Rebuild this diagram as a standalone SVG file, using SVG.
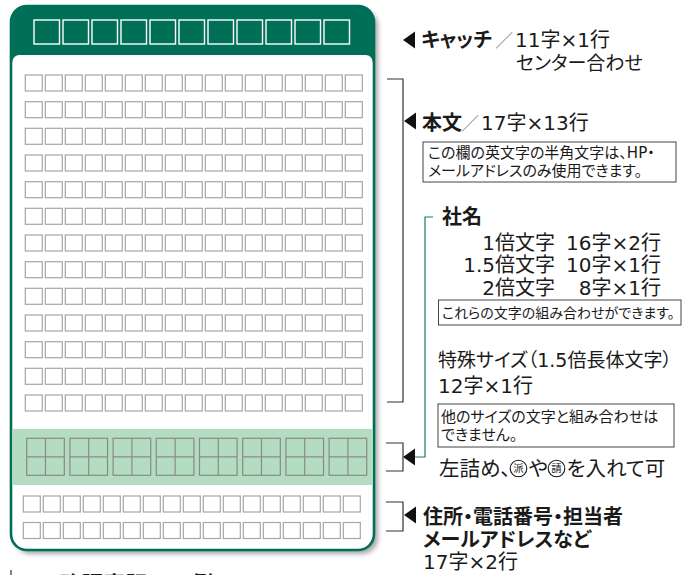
<svg xmlns="http://www.w3.org/2000/svg" xmlns:xlink="http://www.w3.org/1999/xlink" width="686" height="575" viewBox="0 0 686 575">
<style>
text{font-family:"DejaVu Sans","Noto Sans CJK JP",sans-serif;font-feature-settings:"palt";fill:#1a1a1a}
.b{font-weight:bold}
.s20{font-size:20px}
.s16{font-size:15px}
.s21{font-size:20.5px}
.sl{fill:#888;font-weight:normal;font-size:18px}
.cell{fill:#fff;stroke:#a6a6a6;stroke-width:1.2}
.hcell{fill:none;stroke:#fff;stroke-width:1.4}
.bcell{fill:none;stroke:#8a8a8a;stroke-width:1.2}
.note{fill:#fff;stroke:#444;stroke-width:1}
.br{fill:none;stroke:#333;stroke-width:1.2}
.gbr{fill:none;stroke:#1f7a67;stroke-width:1.2}
.tri{fill:#111}
.circ{fill:none;stroke:#1a1a1a;stroke-width:1.1}
.ci{font-size:10.5px}
</style>
<defs>
<filter id="sh" x="-5%" y="-5%" width="115%" height="115%">
<feDropShadow dx="4" dy="4" stdDeviation="2.5" flood-color="#000" flood-opacity="0.35"/>
</filter>
<rect id="cell" width="17" height="16" class="cell"/>
<g id="row">
<use xlink:href="#cell" x="25.3"/><use xlink:href="#cell" x="45.3"/><use xlink:href="#cell" x="65.3"/><use xlink:href="#cell" x="85.3"/><use xlink:href="#cell" x="105.3"/><use xlink:href="#cell" x="125.3"/><use xlink:href="#cell" x="145.3"/><use xlink:href="#cell" x="165.3"/><use xlink:href="#cell" x="185.3"/><use xlink:href="#cell" x="205.3"/><use xlink:href="#cell" x="225.3"/><use xlink:href="#cell" x="245.3"/><use xlink:href="#cell" x="265.3"/><use xlink:href="#cell" x="285.3"/><use xlink:href="#cell" x="305.3"/><use xlink:href="#cell" x="325.3"/><use xlink:href="#cell" x="345.3"/>
</g>
<g id="big">
<rect width="37.6" height="37" class="bcell"/>
<path d="M18.8,0V37M0,18.5H37.6" class="bcell"/>
</g>
<path id="tri" d="M0,0L12,-8.5L12,8.5Z" class="tri"/>
</defs>

<g id="card">
<rect x="11" y="6" width="363" height="544" rx="16" fill="#fff" filter="url(#sh)"/>
<path d="M11,22a16,16 0 0 1 16,-16H358a16,16 0 0 1 16,16V62H11Z" fill="#006f58"/>
<rect x="12.3" y="55" width="360.4" height="60" rx="7" fill="#fff"/>
<rect x="11" y="6" width="363" height="544" rx="16" fill="none" stroke="#006f58" stroke-width="2.6"/>
<g id="catch-cells">
<rect x="34" y="20" width="25.5" height="24" class="hcell"/><rect x="63" y="20" width="25.5" height="24" class="hcell"/><rect x="92" y="20" width="25.5" height="24" class="hcell"/><rect x="121" y="20" width="25.5" height="24" class="hcell"/><rect x="150" y="20" width="25.5" height="24" class="hcell"/><rect x="179" y="20" width="25.5" height="24" class="hcell"/><rect x="208" y="20" width="25.5" height="24" class="hcell"/><rect x="237" y="20" width="25.5" height="24" class="hcell"/><rect x="266" y="20" width="25.5" height="24" class="hcell"/><rect x="295" y="20" width="25.5" height="24" class="hcell"/><rect x="324" y="20" width="25.5" height="24" class="hcell"/>
</g>
<g id="body-cells">
<use xlink:href="#row" y="75"/><use xlink:href="#row" y="101.7"/><use xlink:href="#row" y="128.3"/><use xlink:href="#row" y="155"/><use xlink:href="#row" y="181.7"/><use xlink:href="#row" y="208.3"/><use xlink:href="#row" y="235"/><use xlink:href="#row" y="261.7"/><use xlink:href="#row" y="288.3"/><use xlink:href="#row" y="315"/><use xlink:href="#row" y="341.7"/><use xlink:href="#row" y="368.3"/><use xlink:href="#row" y="395"/>
</g>
<g id="company-band">
<rect x="12.3" y="429" width="360.4" height="56" fill="#b3dcc0"/>
<use xlink:href="#big" x="26.7" y="438.3"/><use xlink:href="#big" x="69.9" y="438.3"/><use xlink:href="#big" x="113.1" y="438.3"/><use xlink:href="#big" x="156.3" y="438.3"/><use xlink:href="#big" x="199.5" y="438.3"/><use xlink:href="#big" x="242.7" y="438.3"/><use xlink:href="#big" x="285.9" y="438.3"/><use xlink:href="#big" x="329.1" y="438.3"/>
</g>
<g id="address-cells">
<use xlink:href="#row" x="-2" y="496"/><use xlink:href="#row" x="-2" y="522.5"/>
</g>
</g>

<g id="connectors">
<use xlink:href="#tri" x="403" y="40"/>
<path d="M387,79H403V402H387" class="br"/>
<use xlink:href="#tri" x="404" y="121"/>
<path d="M433,217H425V457H415" class="gbr"/>
<path d="M386,443H403V471H386" class="br"/>
<use xlink:href="#tri" x="403" y="457"/>
<path d="M386,502H403V531H386" class="br"/>
<use xlink:href="#tri" x="404" y="515"/>
<path d="M11,570V575" class="br"/>
</g>

<g id="catch-label">
<text x="421" y="47" class="s20 b">キャッチ</text>
<text x="495" y="47" class="sl">／</text>
<text x="515" y="47" class="s20">11字×1行</text>
<text x="516" y="70" style="font-size:19px">センター合わせ</text>
</g>

<g id="body-label">
<text x="422" y="130" class="s20 b">本文</text>
<text x="461" y="130" class="sl">／</text>
<text x="481" y="130" class="s20">17字×13行</text>
</g>
<g id="body-note">
<rect x="423" y="142" width="253" height="40" class="note"/>
<text x="428" y="158" class="s16">この欄の英文字の半角文字は、HP・</text>
<text x="428" y="176" class="s16">メールアドレスのみ使用できます。</text>
</g>

<g id="company-label">
<text x="442" y="224" class="s20 b">社名</text>
<text x="555" y="250" class="s20" text-anchor="end">1倍文字</text>
<text x="661" y="250" class="s20" text-anchor="end">16字×2行</text>
<text x="555" y="272" class="s20" text-anchor="end">1.5倍文字</text>
<text x="661" y="272" class="s20" text-anchor="end">10字×1行</text>
<text x="555" y="295" class="s20" text-anchor="end">2倍文字</text>
<text x="661" y="295" class="s20" text-anchor="end">8字×1行</text>
</g>
<g id="company-note">
<rect x="438.5" y="300" width="242.5" height="25" class="note"/>
<text x="442" y="318" style="font-size:14px">これらの文字の組み合わせができます。</text>
</g>

<g id="special-label">
<text x="438" y="367" style="font-size:19px">特殊サイズ（1.5倍長体文字）</text>
<text x="438" y="393" class="s20">12字×1行</text>
</g>
<g id="special-note">
<rect x="438" y="404" width="236" height="43" class="note"/>
<text x="441" y="422" class="s16">他のサイズの文字と組み合わせは</text>
<text x="441" y="440" class="s16">できません。</text>
</g>

<g id="leftalign-label">
<text x="439" y="476" class="s21">左詰め、</text>
<circle cx="518.5" cy="468.5" r="8.3" class="circ"/>
<text x="518.5" y="472.3" text-anchor="middle" class="ci">派</text>
<text x="528.5" y="476" class="s21">や</text>
<circle cx="556.5" cy="468.5" r="8.3" class="circ"/>
<text x="556.5" y="472.3" text-anchor="middle" class="ci">請</text>
<text x="566.5" y="476" class="s21">を入れて可</text>
</g>

<g id="address-label">
<text x="423" y="524" class="s20 b">住所・電話番号・担当者</text>
<text x="423" y="547" class="s20 b">メールアドレスなど</text>
<text x="423" y="569" class="s20">17字×2行</text>
</g>

<g id="caption">
<text x="40" y="592" class="b" style="font-size:22px">●略語表記の一例</text>
</g>
</svg>
